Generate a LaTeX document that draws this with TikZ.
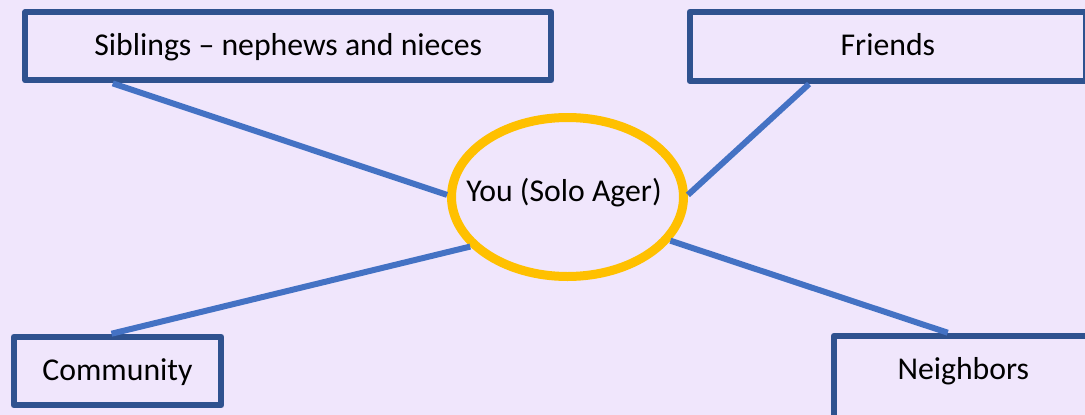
\documentclass[tikz,border=0pt]{standalone}
\usepackage{fontspec}
\setmainfont{Carlito}
\usetikzlibrary{shapes.geometric,calc}
\definecolor{bgc}{HTML}{F0E6FC}
\definecolor{boxc}{HTML}{2F528F}
\definecolor{linkc}{HTML}{4472C4}
\definecolor{goldc}{HTML}{FFC000}
\tikzset{
  txt/.style={font=\fontsize{31.75}{38}\selectfont, text=black},
  box/.style={txt, draw=boxc, line width=6pt, fill=bgc, line join=round, inner sep=0pt, text height=20pt, text depth=2pt},
  link/.style={draw=linkc, line width=6pt},
  hub/.style={ellipse, draw=goldc, line width=9pt, fill=bgc, inner sep=0pt, outer sep=4.5pt}
}
\begin{document}
\begin{tikzpicture}[x=1pt,y=-1pt]
  \useasboundingbox (0,0) rectangle (1085,415);
  \fill[bgc] (0,0) rectangle (1085,415);
  \clip (0,0) rectangle (1085,415);
  \node[box, minimum width=526pt, minimum height=68.3pt] (sib) at (288.3,46.2) {Siblings – nephews and nieces};
  \node[box, minimum width=396.3pt, minimum height=69pt] (fr) at (887.9,46.5) {Friends};
  \node[box, minimum width=207.6pt, minimum height=68.6pt] (com) at (117.5,371) {Community};
  \node[box, minimum width=258.6pt, minimum height=0pt, anchor=north, text height=43.6pt, text depth=50pt] (nb) at (963.3,332.7) {Neighbors};
  \node[hub, minimum width=232pt, minimum height=159pt] (you) at (567.5,197) {};
  \node[txt, anchor=base, inner sep=0pt] (youlbl) at (564,201.7) {You (Solo Ager)};
  \draw[link] ($(sib.south west)!0.17!(sib.south east)$) -- (you.179);
  \draw[link] ($(fr.south west)!0.304!(fr.south east)$) -- (you.1);
  \draw[link] ($(com.north west)!0.472!(com.north east)$) -- (you.207);
  \draw[link] ($(nb.north west)!0.441!(nb.north east)$) -- (you.337);
\end{tikzpicture}
\end{document}
